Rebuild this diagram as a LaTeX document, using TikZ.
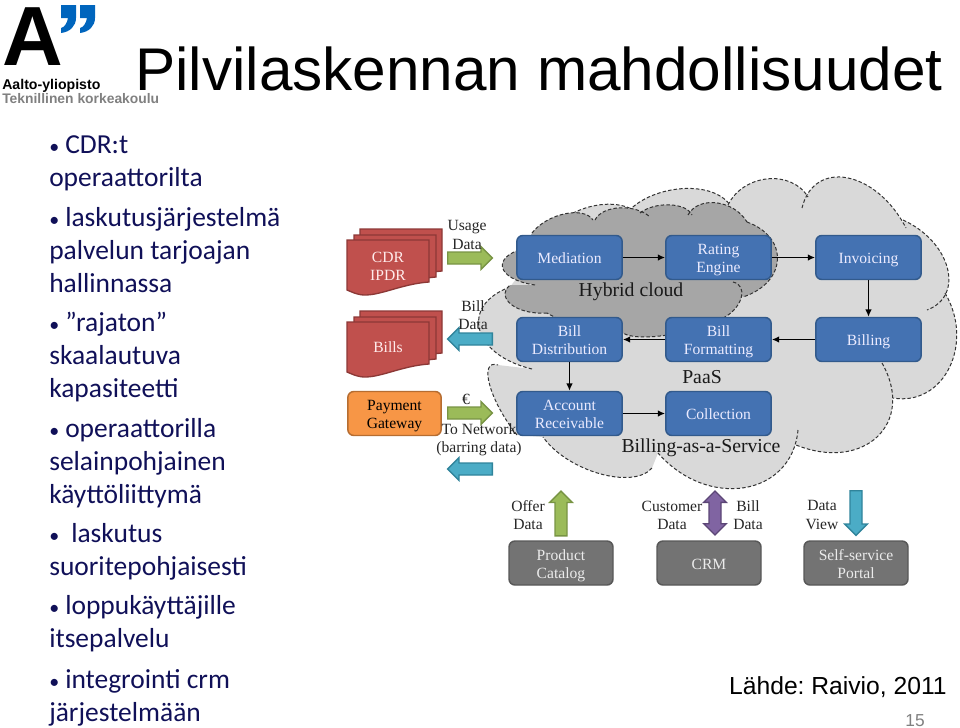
\documentclass[tikz,border=0pt]{standalone}
\usepackage{fontspec}
\setmainfont{Carlito}
\newfontfamily\slidefont{Liberation Sans}
\newfontfamily\chartfont{Liberation Serif}
\usepackage{tikz}
\usetikzlibrary{arrows.meta,calc,positioning,shapes.arrows}
\frenchspacing
\definecolor{cloudlight}{RGB}{217,217,217}
\definecolor{clouddark}{RGB}{166,166,166}
\definecolor{boxblue}{RGB}{68,114,178}
\definecolor{boxblueline}{RGB}{50,90,140}
\definecolor{stackred}{RGB}{192,80,77}
\definecolor{stackredline}{RGB}{140,56,54}
\definecolor{gateorange}{RGB}{247,150,70}
\definecolor{gateorangeline}{RGB}{182,109,49}
\definecolor{boxgray}{RGB}{115,115,115}
\definecolor{boxgrayline}{RGB}{88,88,88}
\definecolor{arrowgreen}{RGB}{155,187,89}
\definecolor{arrowgreenline}{RGB}{120,148,68}
\definecolor{arrowteal}{RGB}{75,172,198}
\definecolor{arrowtealline}{RGB}{48,132,155}
\definecolor{arrowpurple}{RGB}{128,100,162}
\definecolor{arrowpurpleline}{RGB}{92,70,118}
\definecolor{aaltoblue}{RGB}{0,101,189}
\definecolor{bodynavy}{RGB}{16,16,88}
% one cloud = a list of lobes, start/middle/end of each
\newcommand{\cloudlobes}[3]{%
 \fill[#2] #3 foreach \sx/\sy/\mx/\my/\ex/\ey in {#1} {
   -- (\sx,\sy) .. controls ($1.333*(\mx,\my)+.133*(\sx,\sy)-.467*(\ex,\ey)$)
   and ($1.333*(\mx,\my)-.467*(\sx,\sy)+.133*(\ex,\ey)$) .. (\ex,\ey)} -- cycle;
 \foreach \sx/\sy/\mx/\my/\ex/\ey in {#1}
   \draw[cloudline] (\sx,\sy) .. controls ($1.333*(\mx,\my)+.133*(\sx,\sy)-.467*(\ex,\ey)$)
   and ($1.333*(\mx,\my)-.467*(\sx,\sy)+.133*(\ex,\ey)$) .. (\ex,\ey);
}
\newcommand{\topgap}{\rule{0pt}{12pt}}
\newcommand{\botgap}{\rule[-2.5pt]{0pt}{2.5pt}}
\newcommand{\itemdot}{\makebox[12pt][l]{\fontsize{15}{15}\selectfont•}}
\tikzset{
 cloudline/.style={black!80,line width=.75pt,dash pattern=on 2.6pt off 1.6pt},
 chartbox/.style={rectangle,rounded corners=4.5pt,line width=1.1pt,minimum width=79pt,minimum height=33pt,
   inner sep=0pt,align=center,font=\chartfont\fontsize{11.7}{13.6}\selectfont},
 bluebox/.style={chartbox,fill=boxblue,draw=boxblueline,text=white!92!blue},
 graybox/.style={chartbox,fill=boxgray,draw=boxgrayline,minimum width=78pt,text=white!92!black},
 gatebox/.style={chartbox,fill=gateorange,draw=gateorangeline,minimum width=70pt,text=black},
 chartlabel/.style={align=center,inner sep=0pt,text=black!85,font=\chartfont\fontsize{11.7}{13.6}\selectfont},
 cloudlabel/.style={inner sep=0pt,text=black!90,font=\chartfont\fontsize{14.8}{17}\selectfont},
 blockarrow/.style={single arrow,minimum height=33.5pt,minimum width=16.5pt,single arrow head extend=4pt,
   single arrow head indent=0pt,inner sep=4pt,line width=1pt},
 greenarrow/.style={blockarrow,fill=arrowgreen,draw=arrowgreenline},
 tealarrow/.style={blockarrow,fill=arrowteal,draw=arrowtealline},
 flowline/.style={-{Latex[length=5.5pt,width=5pt]},line width=1.1pt,black},
 bodytext/.style={anchor=north west,inner sep=0pt,align=left,text=bodynavy,
   font=\fontsize{20.6}{24.75}\selectfont},
 pagestack/.pic={
   \foreach \dx/\dy in {13/-11,7/-5,0/0}
     \filldraw[fill=stackred,draw=stackredline,line width=1pt,shift={(\dx,\dy)}]
       (0,0) -- (82,0) -- (82,42) .. controls (55,44) and (35,55) .. (18,55)
       .. controls (10,55) and (5,52) .. (0,50) -- cycle;
 },
}
\begin{document}
\begin{tikzpicture}[x=.75pt,y=-.75pt,>=Latex,line cap=butt]
 \useasboundingbox (0,0) rectangle (960,728);
 % logo
 \node[anchor=base west,inner sep=0pt,font=\slidefont\bfseries\fontsize{63}{63}\selectfont] (logoA) at (2,65) {A};
 \foreach \dx in {0,19}
   \fill[aaltoblue,shift={(\dx,0)}] (61,5) -- (76,5) -- (76,18) .. controls (76,26) and (70,32) .. (61,33)
     -- (61,28) .. controls (65,27) and (67,23) .. (68,18) -- (61,18) -- cycle;
 \node[anchor=base west,inner sep=0pt,font=\slidefont\bfseries\fontsize{10.6}{12}\selectfont] (logoname) at (2,89) {Aalto-yliopisto};
 \node[anchor=base west,inner sep=0pt,text=black!50,font=\slidefont\bfseries\fontsize{10.4}{12}\selectfont] (logoschool) at (2,103) {Teknillinen korkeakoulu};
 % title
 \node[anchor=base west,inner sep=0pt,font=\slidefont\fontsize{45.2}{48}\selectfont] (title) at (135,90) {Pilvilaskennan mahdollisuudet};
 % left column
 \node[bodytext] (item1) at (49,135) {\itemdot CDR:t\\operaattorilta};
 \node[bodytext] (item2) at (49,207) {\itemdot laskutusjärjestelmä\\palvelun tarjoajan\\hallinnassa};
 \node[bodytext] (item3) at (49,312) {\itemdot ”rajaton”\\skaalautuva\\kapasiteetti};
 \node[bodytext] (item4) at (49,418) {\itemdot operaattorilla\\selainpohjainen\\käyttöliittymä};
 \node[bodytext] (item5) at (49,523) {\itemdot\hspace{4.5pt}laskutus\\suoritepohjaisesti};
 \node[bodytext] (item6) at (49,595) {\itemdot loppukäyttäjille\\itsepalvelu};
 \node[bodytext] (item7) at (49,669) {\itemdot integrointi crm\\järjestelmään};
 % clouds
 \cloudlobes{545/240/590/207/640/215, 625/215/680/189/730/205, 728/205/768/179/808/197,
   802/208/848/178/906/228, 903/220/948/268/927/310, 945/293/950/368/893/398,
   882/363/878/437/796/445, 798/430/745/488/658/453, 652/468/600/474/543/437,
   517/435/490/385/498/365, 532/369/480/330/510/287}{cloudlight}{(545,240)}
 \cloudlobes{532/233/565/214/593/220, 595/220/620/208/650/217, 640/213/670/205/692/215,
   688/215/717/203/747/222, 747/222/778/260/743/297, 733/282/742/297/725/317,
   725/317/670/335/623/333, 623/333/590/330/547/313, 547/313/512/305/510/285,
   535/285/503/268/525/248}{clouddark}{(532,233)}
 \node[cloudlabel] (hybrid) at (631,292) {Hybrid cloud};
 \node[cloudlabel] (paas) at (702,377) {PaaS};
 \node[cloudlabel] (baas) at (701,448) {Billing-as-a-Service};
 % process boxes
 \node[bluebox] (mediation) at (569.5,257.5) {\topgap Mediation\botgap};
 \node[bluebox] (rating) at (718.5,257.5) {\topgap Rating\\Engine\botgap};
 \node[bluebox] (invoicing) at (868.5,257.5) {\topgap Invoicing\botgap};
 \node[bluebox] (billdist) at (569.5,339.5) {\topgap Bill\\Distribution\botgap};
 \node[bluebox] (billform) at (718.5,339.5) {\topgap Bill\\Formatting\botgap};
 \node[bluebox] (billing) at (868.5,339.5) {\topgap Billing\botgap};
 \node[bluebox] (receivable) at (569.5,413.5) {\topgap Account\\Receivable\botgap};
 \node[bluebox] (collection) at (718.5,413.5) {\topgap Collection\botgap};
 \draw[flowline] (mediation) -- (rating);
 \draw[flowline] (rating) -- (invoicing);
 \draw[flowline] (invoicing) -- (billing);
 \draw[flowline] (billing) -- (billform);
 \draw[flowline] (billform) -- (billdist);
 \draw[flowline] (billdist) -- (receivable);
 \draw[flowline] (receivable) -- (collection);
 % left side
 \pic at (347,240) {pagestack};
 \pic at (347,322) {pagestack};
 \node[chartlabel,text=white!92!red] (cdr) at (388,266) {CDR\\IPDR};
 \node[chartlabel,text=white!92!red] (bills) at (388,347) {Bills};
 \node[gatebox] (gateway) at (394.5,413.5) {\topgap Payment\\Gateway\botgap};
 \node[greenarrow] (usagearrow) at (467,258) {};
 \node[tealarrow,shape border rotate=180] (billarrow) at (473,339) {};
 \node[greenarrow] (euroarrow) at (467,413) {};
 \node[tealarrow,shape border rotate=180] (netarrow) at (473,469) {};
 \node[chartlabel] (usagelabel) at (467,235) {Usage\\Data};
 \node[chartlabel] (billlabel) at (473,315) {Bill\\Data};
 \node[chartlabel] (eurolabel) at (466,399) {€};
 \node[chartlabel] (netlabel) at (479,439.5) {To Network\\(barring data)};
 % bottom row
 \node[graybox] (catalog) at (561,563) {\topgap Product\\Catalog\botgap};
 \node[graybox] (crm) at (709,563) {\topgap CRM\botgap};
 \node[graybox] (portal) at (856,563) {\topgap Self-service\\Portal\botgap};
 \node[greenarrow,shape border rotate=90] (offerarrow) at (561,516.5) {};
 \node[double arrow,minimum height=33pt,minimum width=16.5pt,double arrow head extend=4pt,
   double arrow head indent=0pt,inner sep=4pt,line width=1pt,fill=arrowpurple,draw=arrowpurpleline,
   shape border rotate=90] (crmarrow) at (715,513) {};
 \node[tealarrow,shape border rotate=270] (viewarrow) at (856,510) {};
 \node[chartlabel] (offerlabel) at (528,515) {Offer\\Data};
 \node[chartlabel] (customerlabel) at (672,515) {Customer\\Data};
 \node[chartlabel] (crmbilllabel) at (748,515) {Bill\\Data};
 \node[chartlabel] (viewlabel) at (822,515) {Data\\View};
 % source and page
 \node[anchor=base east,inner sep=0pt,font=\slidefont\fontsize{18.5}{22}\selectfont] (source) at (947,694) {Lähde: Raivio, 2011};
 \node[anchor=base east,inner sep=0pt,text=black!50,font=\slidefont\fontsize{13}{15}\selectfont] (pagenum) at (925,726) {15};
\end{tikzpicture}
\end{document}
